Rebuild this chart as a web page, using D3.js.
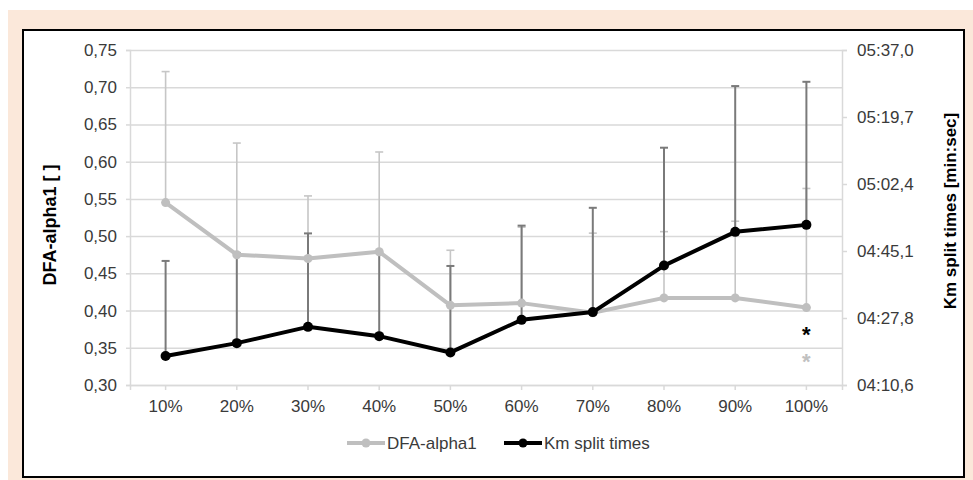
<!DOCTYPE html>
<html>
<head>
<meta charset="utf-8">
<script src="https://cdn.jsdelivr.net/npm/d3@7"></script>
<style>
  body { margin: 0; background: #fff; }
  text { font-family: "Liberation Sans", Arial, sans-serif; }
</style>
</head>
<body>
<div id="container"></div>
<script>
/* DATA */
const categories = ["10%", "20%", "30%", "40%", "50%", "60%", "70%", "80%", "90%", "100%"];
// DFA-alpha1 means and upper error bar ends (left axis)
const dfaValues = [0.545, 0.475, 0.470, 0.479, 0.407, 0.410, 0.397, 0.417, 0.417, 0.404];
const dfaErrTop = [0.721, 0.625, 0.554, 0.613, 0.481, 0.512, 0.504, 0.506, 0.520, 0.564];
// Km split times in seconds and upper error bar ends (right axis)
const kmValues = [258.1, 261.4, 265.6, 263.2, 259.0, 267.4, 269.4, 281.4, 290.1, 291.9];
const kmErrTop = [282.6, 284.6, 289.7, 284.7, 281.3, 291.7, 296.3, 311.8, 327.7, 328.8];
// tick values and labels
const leftTicks = [0.30, 0.35, 0.40, 0.45, 0.50, 0.55, 0.60, 0.65, 0.70, 0.75];
const rightTicks = [250.6, 267.88, 285.16, 302.44, 319.72, 337.0];
const rightLabels = ["04:10,6", "04:27,8", "04:45,1", "05:02,4", "05:19,7", "05:37,0"];
// significance marks at 100% (left axis units)
const starDfaY = 0.338;
const starKmY = 0.374;

/* LAYOUT */
const width = 973, height = 480;
const plot = { left: 130, right: 842, top: 50, bottom: 385 };

const svg = d3.select("#container").append("svg")
  .attr("width", width).attr("height", height);

// peach frame and white chart box
svg.append("rect").attr("x", 8).attr("y", 10).attr("width", width - 8).attr("height", height - 10)
  .attr("fill", "#fbe8da");
svg.append("rect").attr("x", 23).attr("y", 30).attr("width", 941).attr("height", 447)
  .attr("fill", "#fff").attr("stroke", "#000").attr("stroke-width", 2);

/* SCALES */
const xScale = d3.scaleBand().domain(categories).range([plot.left, plot.right]).padding(0);
const cx = d => xScale(d) + xScale.bandwidth() / 2;
const yLeft = d3.scaleLinear().domain([0.30, 0.75]).range([plot.bottom, plot.top]);
const yRight = d3.scaleLinear().domain([250.6, 337.0]).range([plot.bottom, plot.top]);

const comma = d3.formatLocale({ decimal: ",", thousands: ".", grouping: [3], currency: ["", ""] }).format(".2f");

const gridColor = "#d9d9d9";
const labelColor = "#3a3a3a";

// gridlines
svg.append("g")
  .attr("transform", `translate(${plot.left},0)`)
  .call(d3.axisLeft(yLeft).tickValues(leftTicks).tickSize(-(plot.right - plot.left)).tickFormat(""))
  .call(g => g.select(".domain").remove())
  .call(g => g.selectAll("line").attr("stroke", gridColor).attr("stroke-width", 1.5));

// left axis
svg.append("g")
  .attr("transform", `translate(${plot.left},0)`)
  .call(d3.axisLeft(yLeft).tickValues(leftTicks).tickSize(4).tickPadding(9).tickFormat(comma))
  .call(g => g.select(".domain").attr("stroke", gridColor).attr("stroke-width", 1.5))
  .call(g => g.selectAll("line").attr("stroke", gridColor).attr("stroke-width", 1.5))
  .call(g => g.selectAll("text").attr("fill", labelColor).attr("font-size", 17));

// right axis
svg.append("g")
  .attr("transform", `translate(${plot.right},0)`)
  .call(d3.axisRight(yRight).tickValues(rightTicks).tickSize(5).tickPadding(10)
    .tickFormat((d, i) => rightLabels[i]))
  .call(g => g.select(".domain").attr("stroke", gridColor).attr("stroke-width", 1.5))
  .call(g => g.selectAll("line").attr("stroke", gridColor).attr("stroke-width", 1.5))
  .call(g => g.selectAll("text").attr("fill", labelColor).attr("font-size", 17));

// bottom axis
const xAxis = d3.axisBottom(xScale).tickSize(5).tickPadding(10);
svg.append("g")
  .attr("transform", `translate(0,${plot.bottom})`)
  .call(xAxis)
  .call(g => g.select(".domain").attr("stroke", gridColor).attr("stroke-width", 1.5))
  .call(g => g.selectAll("line").attr("stroke", gridColor).attr("stroke-width", 1.5))
  .call(g => g.selectAll("text").attr("fill", labelColor).attr("font-size", 17));

// axis titles
svg.append("text")
  .attr("transform", "translate(56,225) rotate(-90)")
  .attr("text-anchor", "middle").attr("font-weight", "bold").attr("font-size", 18)
  .attr("fill", "#000").text("DFA-alpha1 [ ]");
svg.append("text")
  .attr("transform", "translate(956,211) rotate(-90)")
  .attr("text-anchor", "middle").attr("font-weight", "bold").attr("font-size", 17)
  .attr("fill", "#000").text("Km split times [min:sec]");

/* ERROR BARS */
const capW = 4;
function errorBars(values, tops, scale, color, w) {
  const g = svg.append("g");
  categories.forEach((c, i) => {
    g.append("line").attr("x1", cx(c)).attr("x2", cx(c))
      .attr("y1", scale(values[i])).attr("y2", scale(tops[i]))
      .attr("stroke", color).attr("stroke-width", w);
    g.append("line").attr("x1", cx(c) - capW).attr("x2", cx(c) + capW)
      .attr("y1", scale(tops[i])).attr("y2", scale(tops[i]))
      .attr("stroke", color).attr("stroke-width", w);
  });
}
errorBars(dfaValues, dfaErrTop, yLeft, "#c6c6c6", 1.6);
errorBars(kmValues, kmErrTop, yRight, "#7a7a7a", 2);

/* LINES */
const dfaColor = "#bfbfbf";
const kmColor = "#000";

svg.append("path")
  .datum(categories.map((c, i) => [cx(c), yLeft(dfaValues[i])]))
  .attr("d", d3.line()).attr("fill", "none").attr("stroke", dfaColor).attr("stroke-width", 4)
  .attr("stroke-linejoin", "round");
svg.selectAll(".dfaDot").data(dfaValues).join("circle")
  .attr("class", "dfaDot").attr("r", 4.5)
  .attr("cx", (d, i) => cx(categories[i])).attr("cy", d => yLeft(d)).attr("fill", dfaColor);

svg.append("path")
  .datum(categories.map((c, i) => [cx(c), yRight(kmValues[i])]))
  .attr("d", d3.line()).attr("fill", "none").attr("stroke", kmColor).attr("stroke-width", 4)
  .attr("stroke-linejoin", "round");
svg.selectAll(".kmDot").data(kmValues).join("circle")
  .attr("class", "kmDot").attr("r", 5)
  .attr("cx", (d, i) => cx(categories[i])).attr("cy", d => yRight(d)).attr("fill", kmColor);

// asterisks
const last = categories[categories.length - 1];
svg.append("text").attr("x", cx(last)).attr("y", yLeft(starKmY) + 12.5)
  .attr("text-anchor", "middle").attr("font-size", 22).attr("font-weight", "bold")
  .attr("fill", "#000").text("*");
svg.append("text").attr("x", cx(last)).attr("y", yLeft(starDfaY) + 12.5)
  .attr("text-anchor", "middle").attr("font-size", 22).attr("font-weight", "bold")
  .attr("fill", "#c0c0c0").text("*");

/* LEGEND */
const legend = [
  { name: "DFA-alpha1", color: dfaColor, x: 347 },
  { name: "Km split times", color: kmColor, x: 504 }
];
const ly = 443;
legend.forEach(l => {
  svg.append("line").attr("x1", l.x).attr("x2", l.x + 38).attr("y1", ly).attr("y2", ly)
    .attr("stroke", l.color).attr("stroke-width", 4);
  svg.append("circle").attr("cx", l.x + 19).attr("cy", ly).attr("r", 4.5).attr("fill", l.color);
  svg.append("text").attr("x", l.x + 40).attr("y", ly + 6)
    .attr("font-size", 17).attr("fill", labelColor).text(l.name);
});
</script>
</body>
</html>
